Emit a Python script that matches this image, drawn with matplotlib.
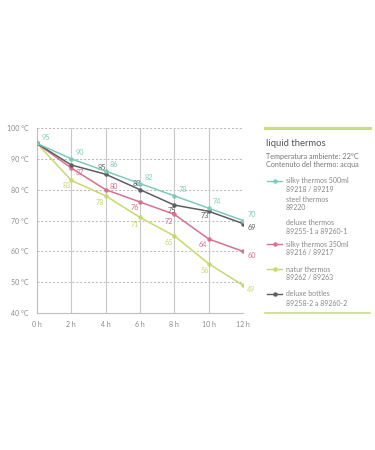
import matplotlib
matplotlib.use("Agg")
import matplotlib.pyplot as plt
from matplotlib.lines import Line2D

plt.rcParams['font.family'] = ['Lato', 'DejaVu Sans']

hours = [0, 2, 4, 6, 8, 10, 12]
xtick_labels = ["0 h", "2 h", "4 h", "6 h", "8 h", "10 h", "12 h"]
yticks = [40, 50, 60, 70, 80, 90, 100]
ytick_labels = ["40 °C", "50 °C", "60 °C", "70 °C", "80 °C", "90 °C", "100 °C"]

silky500 = [95, 90, 86, 82, 78, 74, 70]
deluxe_bottles = [95, 88, 85, 80, 75, 73, 69]
silky350 = [95, 87, 80, 76, 72, 64, 60]
natur = [95, 83, 78, 71, 65, 56, 49]

# labels shown (None = no label)
silky500_lbl = ["95", "90", "86", "82", "78", "74", "70"]
deluxe_lbl = [None, None, "85", "80", "75", "73", "69"]
silky350_lbl = [None, "87", "80", "76", "72", "64", "60"]
natur_lbl = [None, "83", "78", "71", "65", "56", "49"]

c_teal = "#7fcbbb"
c_dark = "#5e5e60"
c_pink = "#d8708e"
c_green = "#c5da6c"
c_bar = "#cadd80"
c_text = "#8a8a8a"

fig = plt.figure(figsize=(3.75, 4.5), dpi=100)
ax = fig.add_axes([37/375, 1-313/450, (243-37)/375, (313-128)/450])

series = [
    (silky500, silky500_lbl, c_teal, [(3, 2)] * 7),
    (deluxe_bottles, deluxe_lbl, c_dark, [(0, 0), (0, 0), (-6, 2), (-5, 2), (-5, -4), (-6, -3), (3, -3)]),
    (silky350, silky350_lbl, c_pink, [(0, 0), (3, -3), (3, 0), (-7, -4), (-7, -5), (-7, -4), (3, -3)]),
    (natur, natur_lbl, c_green, [(0, 0), (-6, -4), (-7, -5), (-7, -5), (-7, -5), (-6, -5), (3, -3)]),
]

for vals, lbls, col, offs in [series[3], series[2], series[1], series[0]]:
    ax.plot(hours, vals, color=col, lw=1.1, marker='o', ms=2.2, zorder=3)
    for h, v, l, o in zip(hours, vals, lbls, offs):
        if l is not None:
            ax.annotate(l, (h, v), xytext=o, textcoords='offset points',
                        fontsize=5.2, color=col, ha='left',
                        va='bottom' if o[1] >= 0 else 'center')

ax.set_xlim(0, 12)
ax.set_ylim(40, 100)
ax.set_xticks(hours)
ax.set_xticklabels(xtick_labels)
ax.set_yticks(yticks)
ax.set_yticklabels(ytick_labels)
ax.tick_params(length=0, labelsize=5, colors=c_text, pad=6)

for y in [50, 60, 70, 80, 90, 100]:
    ax.axhline(y, color="#b5b5b5", lw=0.7, ls=(0, (2, 2)), zorder=1)
for h in [2, 4, 6, 8, 10]:
    ax.axvline(h, color="#c8c8c8", lw=0.8, zorder=1)

for s in ['top', 'right']:
    ax.spines[s].set_visible(False)
for s in ['left', 'bottom']:
    ax.spines[s].set_color("#bdbdbd")
    ax.spines[s].set_linewidth(0.8)

# legend panel
def fx(px):
    return px / 375
def fy(py):
    return 1 - py / 450

fig.add_artist(Line2D([fx(265), fx(370)], [fy(128), fy(128)], color=c_bar, lw=2.2))
fig.add_artist(Line2D([fx(265), fx(370)], [fy(313), fy(313)], color=c_bar, lw=1.2))
fig.text(fx(266), fy(143), "liquid thermos", fontsize=6.8, color="#555555", va='center')
fig.text(fx(266), fy(156), "Temperatura ambiente: 22°C", fontsize=5.2, color="#777777", va='center')
fig.text(fx(266), fy(165), "Contenuto del thermo: acqua", fontsize=5.2, color="#777777", va='center')

entries = [
    (c_teal, "silky thermos 500ml", "89218 / 89219", 181),
    (None, "steel thermos", "89220", 199),
    (None, "deluxe thermos", "89255-1 a 89260-1", 222),
    (c_pink, "silky thermos 350ml", "89216 / 89217", 244),
    (c_green, "natur thermos", "89262 / 89263", 269),
    (c_dark, "deluxe bottles", "89258-2 a 89260-2", 294),
]
for col, t1, t2, py in entries:
    if col is not None:
        fig.add_artist(Line2D([fx(267), fx(282)], [fy(py), fy(py)], color=col, lw=1))
        fig.add_artist(Line2D([fx(275)], [fy(py)], color=col, marker='o', ms=2.2, lw=0))
    fig.text(fx(286), fy(py), t1, fontsize=5, color="#888888", va='center')
    fig.text(fx(286), fy(py + 9), t2, fontsize=5, color="#888888", va='center')

fig.savefig("out.png", dpi=100, facecolor='white')
